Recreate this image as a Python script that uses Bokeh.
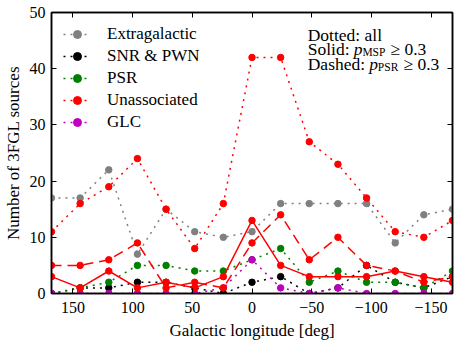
from bokeh.plotting import figure
from bokeh.models import Range1d, LinearAxis, Legend, LegendItem, Label, FixedTicker
from bokeh.embed import file_html
from bokeh.resources import INLINE

# Galactic longitude bin centres (deg)
longitude = [168, 144, 120, 96, 72, 48, 24, 0, -24, -48, -72, -96, -120, -144, -168]

extragalactic = [17, 17, 22, 7, 15, 11, 10, 11, 16, 16, 16, 16, 9, 14, 15]
snr_pwn = [0, 1, 1, 2, 2, 1, 0, 2, 3, 0, 1, 5, 2, 1, 3]
psr = [0, 1, 2, 5, 5, 4, 4, 6, 8, 2, 4, 2, 2, 1, 4]
unassociated = [11, 16, 19, 24, 15, 8, 16, 42, 42, 27, 23, 17, 11, 10, 13]
glc = [0, 0, 0, 0, 0, 0, 1, 6, 1, 0, 1, 0, 0, 0, 0]
unassoc_msp = [3, 1, 4, 1, 2, 1, 3, 13, 5, 3, 3, 3, 4, 3, 2]
unassoc_psr = [5, 5, 6, 9, 1, 2, 1, 9, 14, 6, 10, 5, 4, 2, 3]

x_ticks = [150, 100, 50, 0, -50, -100, -150]
y_ticks = [0, 10, 20, 30, 40, 50]

FONT = "Liberation Serif"

# frame: left 49, right 452, top 12, bottom 293 (px)
p = figure(width=457, height=343, x_range=Range1d(168, -168), y_range=Range1d(0, 50),
           output_backend="svg", toolbar_location=None,
           min_border_left=49, min_border_right=5, min_border_top=12, min_border_bottom=50)
p.xgrid.visible = False
p.ygrid.visible = False
p.outline_line_color = "black"
p.outline_line_width = 1.5
p.background_fill_color = "white"
p.border_fill_color = "white"

overrides = {t: (str(t) if t >= 0 else "\u2212" + str(-t)) for t in x_ticks}

for ax in p.xaxis:
    ax.ticker = FixedTicker(ticks=x_ticks)
    ax.major_label_overrides = overrides
    ax.axis_label = "Galactic longitude [deg]"
    ax.major_label_standoff = 8
    ax.axis_label_standoff = 5
for ax in p.yaxis:
    ax.ticker = FixedTicker(ticks=y_ticks)
    ax.axis_label = "Number of 3FGL sources"
    ax.major_label_standoff = 6
    ax.axis_label_standoff = 4

top_axis = LinearAxis(ticker=FixedTicker(ticks=x_ticks))
right_axis = LinearAxis(ticker=FixedTicker(ticks=y_ticks))
p.add_layout(top_axis, "above")
p.add_layout(right_axis, "right")

for ax in p.xaxis + p.yaxis + [top_axis, right_axis]:
    ax.major_tick_in = 5
    ax.major_tick_out = 0
    ax.minor_tick_line_color = None
    ax.axis_line_color = "black"
    ax.axis_line_width = 1.5
    ax.major_tick_line_color = "black"
    ax.major_tick_line_width = 1
    ax.major_label_text_font = FONT
    ax.major_label_text_font_size = "16px"
    ax.major_label_text_color = "black"
    ax.axis_label_text_font = FONT
    ax.axis_label_text_font_size = "17px"
    ax.axis_label_text_font_style = "normal"
    ax.axis_label_text_color = "black"

for ax in (top_axis, right_axis):
    ax.major_label_text_font_size = "1px"
    ax.major_label_text_color = None
    ax.major_label_standoff = 0

DOT = "2 5"
DASH = "10 6"

series = [
    ("Extragalactic", extragalactic, "gray", DOT),
    ("SNR & PWN", snr_pwn, "black", DOT),
    ("PSR", psr, "green", DOT),
    ("Unassociated", unassociated, "red", DOT),
    ("GLC", glc, "#bf00bf", DOT),
    (None, unassoc_msp, "red", "solid"),
    (None, unassoc_psr, "red", DASH),
]

items = []
for name, vals, color, dash in series:
    lr = p.line(longitude, vals, line_color=color, line_width=1.5, line_dash=dash)
    sr = p.scatter(longitude, vals, marker="circle", size=6.5, fill_color=color, line_color=color)
    if name:
        items.append(LegendItem(label=name, renderers=[lr, sr]))

legend = Legend(items=items, location="top_left", margin=12, padding=10,
                glyph_width=28, glyph_height=20, label_height=20, spacing=2,
                label_standoff=16, border_line_color=None, background_fill_alpha=0,
                label_text_font=FONT, label_text_font_size="17px", label_text_color="black")
p.add_layout(legend)

# text box, positioned in screen px then converted to data coordinates
S = 17.5
SUB = 11.5
PX_PER_DEG = (452 - 49) / 336.0
PX_PER_UNIT = (293 - 12) / 50.0

def xd(px):
    return 168 - (px - 49) / PX_PER_DEG

def yd(py):
    return (293 - py) / PX_PER_UNIT

def lab(px, py, text, size, style="normal"):
    p.add_layout(Label(x=xd(px), y=yd(py), text=text, text_font=FONT,
                       text_font_size="%spx" % size, text_font_style=style,
                       text_color="black", text_baseline="alphabetic", text_align="left"))

x0 = 306.5
b1, b2, b3 = 34.0, 48.5, 63.0
lab(x0, b1, "Dotted: all", S)

x = x0
lab(x, b2, "Solid:", S); x += 2.64 * S
lab(x, b2, "p", S, "italic"); x += 0.5 * S
lab(x, b2 + 3, "MSP", SUB); x += 2.0 * SUB + 0.3 * S
lab(x, b2, "\u2265 0.3", S)

x = x0
lab(x, b3, "Dashed:", S); x += 3.527 * S
lab(x, b3, "p", S, "italic"); x += 0.5 * S
lab(x, b3 + 3, "PSR", SUB); x += 1.78 * SUB + 0.3 * S
lab(x, b3, "\u2265 0.3", S)

open("out.html", "w").write(file_html(p, INLINE))
